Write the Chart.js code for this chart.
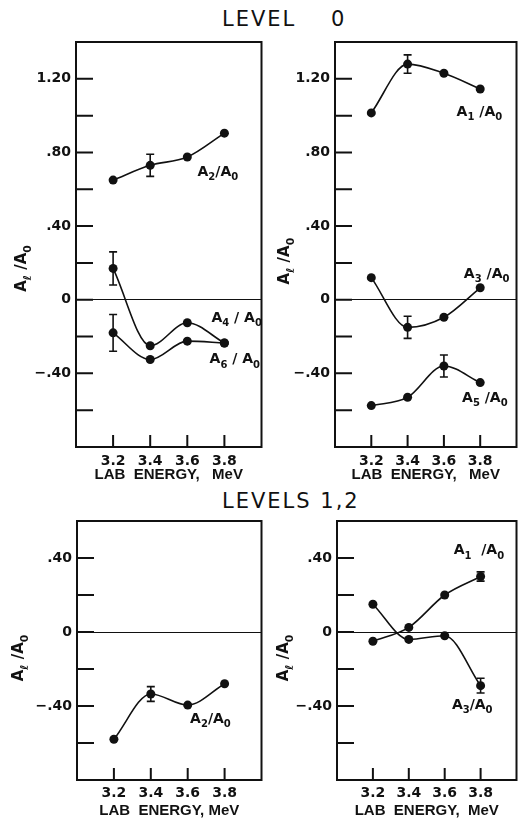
<!DOCTYPE html>
<html>
<head>
<meta charset="utf-8">
<script src="https://cdn.jsdelivr.net/npm/chart.js@4.4.1/dist/chart.umd.min.js"></script>
<style>
  body { margin: 0; background: #fff; }
  #wrap { position: relative; width: 521px; height: 820px; overflow: hidden; font-family: "DejaVu Sans", sans-serif; color: #111; }
  canvas { position: absolute; }
  .ttl { position: absolute; font-size: 21px; line-height: 1; letter-spacing: 2px; white-space: pre; }
</style>
</head>
<body>
<div id="wrap">
  <div class="ttl" style="left:222px;top:9px">LEVEL    0</div>
  <div class="ttl" style="left:222px;top:491px">LEVELS 1,2</div>
  <canvas id="c0" width="266" height="490" style="left:0;top:0"></canvas>
  <canvas id="c1" width="255" height="490" style="left:266px;top:0"></canvas>
  <canvas id="c2" width="266" height="330" style="left:0;top:490px"></canvas>
  <canvas id="c3" width="255" height="330" style="left:266px;top:490px"></canvas>
</div>
<script>
const INK = '#111';

// lab energy (MeV) of the four measurements
const energy = [3.2, 3.4, 3.6, 3.8];
const xTickLabels = ['3.2', '3.4', '3.6', '3.8'];
const yLabelVals = [1.2, 0.8, 0.4, 0, -0.4];
const yLabelText = ['1.20', '.80', '.40', '0', '\u2212.40'];

// LEVEL 0, left panel
const l0_a2 = [0.65, 0.73, 0.775, 0.905];
const l0_a2_err = [0, 0.06, 0, 0];
const l0_a4 = [0.17, -0.25, -0.125, -0.235];
const l0_a4_err = [0.09, 0, 0, 0];
const l0_a6 = [-0.18, -0.325, -0.225, -0.235];
const l0_a6_err = [0.10, 0, 0, 0];

// LEVEL 0, right panel
const l0_a1 = [1.015, 1.28, 1.23, 1.145];
const l0_a1_err = [0, 0.05, 0, 0];
const l0_a3 = [0.12, -0.15, -0.095, 0.065];
const l0_a3_err = [0, 0.06, 0, 0];
const l0_a5 = [-0.575, -0.53, -0.36, -0.45];
const l0_a5_err = [0, 0, 0.06, 0];

// LEVELS 1,2
const l12_a2 = [-0.58, -0.335, -0.395, -0.28];
const l12_a2_err = [0, 0.04, 0, 0];
const l12_a1 = [-0.05, 0.025, 0.2, 0.30];
const l12_a1_err = [0, 0, 0, 0.025];
const l12_a3 = [0.15, -0.04, -0.02, -0.29];
const l12_a3_err = [0, 0, 0, 0.04];

// text with "_x" meaning subscript x
function drawRich(ctx, str, x, y, size, center) {
  const parts = [];
  for (let i = 0; i < str.length; i++) {
    if (str[i] === '_' && i + 1 < str.length) { parts.push([str[i + 1], 1]); i++; }
    else if (parts.length && !parts[parts.length - 1][1]) parts[parts.length - 1][0] += str[i];
    else parts.push([str[i], 0]);
  }
  const main = `bold ${size}px "DejaVu Sans"`, sub = `bold ${Math.round(size * 0.72)}px "DejaVu Sans"`;
  let w = 0;
  parts.forEach(p => { ctx.font = p[1] ? sub : main; w += ctx.measureText(p[0]).width; });
  let cx = center ? x - w / 2 : x;
  const base = y + size * 0.36;
  ctx.textAlign = 'left';
  ctx.textBaseline = 'alphabetic';
  parts.forEach(p => {
    ctx.font = p[1] ? sub : main;
    ctx.fillText(p[0], cx, p[1] ? base + size * 0.3 : base);
    cx += ctx.measureText(p[0]).width;
  });
}

const panelPlugin = {
  id: 'panel',
  afterDatasetsDraw(chart, args, opts) {
    const { ctx, chartArea: a, scales: { x, y } } = chart;
    ctx.save();
    ctx.strokeStyle = INK;
    ctx.fillStyle = INK;
    // error bars
    ctx.lineWidth = 1.6;
    chart.data.datasets.forEach(ds => {
      (ds.errs || []).forEach((e, i) => {
        if (!e) return;
        const px = x.getPixelForValue(ds.data[i].x);
        const y1 = y.getPixelForValue(ds.data[i].y + e);
        const y2 = y.getPixelForValue(ds.data[i].y - e);
        ctx.beginPath();
        ctx.moveTo(px, y1); ctx.lineTo(px, y2);
        ctx.moveTo(px - 4, y1); ctx.lineTo(px + 4, y1);
        ctx.moveTo(px - 4, y2); ctx.lineTo(px + 4, y2);
        ctx.stroke();
      });
    });
    // frame
    ctx.lineWidth = 2;
    ctx.strokeRect(a.left, a.top, a.right - a.left, a.bottom - a.top);
    // ticks point inward
    ctx.beginPath();
    y.ticks.forEach(t => {
      if (t.value <= y.min + 1e-6 || t.value >= y.max - 1e-6) return;
      const py = y.getPixelForValue(t.value);
      ctx.moveTo(a.left, py); ctx.lineTo(a.left + 17, py);
    });
    x.ticks.forEach(t => {
      if (t.value <= x.min + 1e-6 || t.value >= x.max - 1e-6) return;
      const px = x.getPixelForValue(t.value);
      ctx.moveTo(px, a.bottom); ctx.lineTo(px, a.bottom - 12);
    });
    ctx.stroke();
    // curve names
    (opts.labels || []).forEach(l => {
      drawRich(ctx, l.text, x.getPixelForValue(l.x), y.getPixelForValue(l.y), 14, false);
    });
    // y axis title
    if (opts.yTitle) {
      ctx.translate(a.left + opts.yTitle.dx, y.getPixelForValue(opts.yTitle.y));
      ctx.rotate(-Math.PI / 2);
      drawRich(ctx, 'A_\u2113 /A_0', 0, 0, 15, true);
    }
    ctx.restore();
  }
};

function makePanel(p) {
  const datasets = p.series.map(s => ({
    data: energy.map((e, i) => ({ x: e, y: s[0][i] })),
    errs: s[1],
    borderColor: INK,
    borderWidth: 1.6,
    backgroundColor: INK,
    pointBackgroundColor: INK,
    pointBorderWidth: 0,
    pointRadius: 4.5,
    cubicInterpolationMode: 'monotone',
    fill: false
  }));
  new Chart(document.getElementById(p.id), {
    type: 'line',
    data: { datasets },
    options: {
      responsive: false,
      animation: false,
      devicePixelRatio: 1,
      layout: { padding: { left: 0, top: p.padTop, right: p.padRight, bottom: 0 } },
      plugins: {
        legend: { display: false },
        tooltip: { enabled: false },
        panel: { labels: p.labels, yTitle: p.yTitle }
      },
      scales: {
        x: {
          type: 'linear',
          min: 3.0, max: 4.0,
          afterFit: s => { s.height = p.xh; },
          grid: { display: false },
          border: { display: false },
          ticks: {
            stepSize: 0.2, autoSkip: false, maxRotation: 0, padding: p.xTickPad, color: INK,
            font: { family: 'DejaVu Sans', size: 14, weight: 'bold' },
            callback: v => {
              const i = energy.findIndex(e => Math.abs(e - v) < 1e-6);
              return i >= 0 ? xTickLabels[i] : '';
            }
          },
          title: {
            display: true, text: p.xTitle, color: INK,
            font: { family: 'Liberation Sans', size: 15, weight: 'bold' },
            padding: { top: 0, bottom: p.xTitlePad }
          }
        },
        y: {
          min: -0.8, max: p.yMax,
          afterFit: s => { s.width = p.yw; },
          border: { display: false },
          grid: {
            drawTicks: false,
            lineWidth: 1,
            color: c => (Math.abs(c.tick.value) < 1e-6 ? INK : 'rgba(0,0,0,0)')
          },
          ticks: {
            stepSize: 0.2, autoSkip: false, padding: 5, color: INK,
            font: { family: 'DejaVu Sans', size: 14, weight: 'bold' },
            callback: v => {
              const i = yLabelVals.findIndex(t => Math.abs(t - v) < 1e-6);
              return i >= 0 && v > -0.8 + 1e-6 ? yLabelText[i] : '';
            }
          }
        }
      }
    },
    plugins: [panelPlugin]
  });
}

makePanel({
  id: 'c0', yMax: 1.4, yw: 76, xh: 43, padTop: 42, padRight: 4,
  xTitle: 'LAB  ENERGY,   MeV', xTitlePad: 6, xTickPad: -2,
  yTitle: { dx: -55, y: 0.17 },
  series: [[l0_a2, l0_a2_err], [l0_a4, l0_a4_err], [l0_a6, l0_a6_err]],
  labels: [
    { text: 'A_2/A_0', x: 3.655, y: 0.70 },
    { text: 'A_4 / A_0', x: 3.73, y: -0.093 },
    { text: 'A_6 / A_0', x: 3.72, y: -0.318 }
  ]
});
makePanel({
  id: 'c1', yMax: 1.4, yw: 69, xh: 43, padTop: 42, padRight: 2,
  xTitle: 'LAB  ENERGY,   MeV', xTitlePad: 6, xTickPad: -2,
  yTitle: { dx: -51, y: 0.21 },
  series: [[l0_a1, l0_a1_err], [l0_a3, l0_a3_err], [l0_a5, l0_a5_err]],
  labels: [
    { text: 'A_1 /A_0', x: 3.67, y: 1.025 },
    { text: 'A_3 /A_0', x: 3.71, y: 0.148 },
    { text: 'A_5 /A_0', x: 3.70, y: -0.526 }
  ]
});
makePanel({
  id: 'c2', yMax: 0.6, yw: 77, xh: 40, padTop: 31, padRight: 3,
  xTitle: 'LAB  ENERGY, MeV', xTitlePad: 0, xTickPad: -3,
  yTitle: { dx: -59, y: -0.14 },
  series: [[l12_a2, l12_a2_err]],
  labels: [
    { text: 'A_2/A_0', x: 3.613, y: -0.466 }
  ]
});
makePanel({
  id: 'c3', yMax: 0.6, yw: 71, xh: 40, padTop: 31, padRight: 2,
  xTitle: 'LAB  ENERGY,  MeV', xTitlePad: 0, xTickPad: -3,
  yTitle: { dx: -54, y: -0.14 },
  series: [[l12_a1, l12_a1_err], [l12_a3, l12_a3_err]],
  labels: [
    { text: 'A_1  /A_0', x: 3.65, y: 0.447 },
    { text: 'A_3/A_0', x: 3.64, y: -0.39 }
  ]
});
</script>
</body>
</html>
